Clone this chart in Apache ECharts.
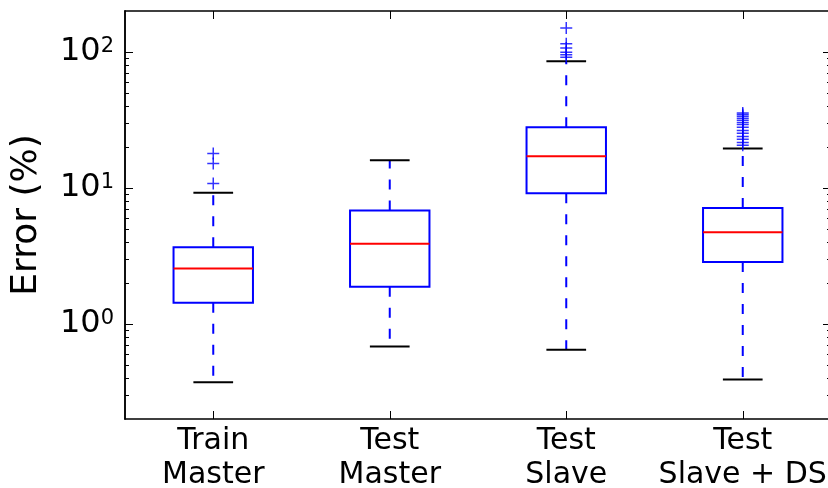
<!DOCTYPE html>
<html>
<head>
<meta charset="utf-8">
<script src="https://cdn.jsdelivr.net/npm/echarts@6/dist/echarts.min.js"></script>
<style>
  html, body { margin: 0; padding: 0; background: #fff; }
  #chart { width: 828px; height: 488px; }
</style>
</head>
<body>
<div id="chart"></div>
<script>
const categories = ['Train\nMaster', 'Test\nMaster', 'Test\nSlave', 'Test\nSlave + DS'];
const whiskerLow = [0.373, 0.682, 0.645, 0.39];
const q1 = [1.43, 1.88, 9.14, 2.85];
const median = [2.56, 3.88, 17.1, 4.73];
const q3 = [3.66, 6.83, 27.9, 7.13];
const whiskerHigh = [9.2, 16.0, 85.5, 19.5];
const outliers = [
  [17.9, 15.1, 10.8],
  [],
  [150, 115, 107, 99.5, 95.3, 91.4],
  [35.6, 34.7, 33.6, 32.5, 31.4, 30.3, 29.3, 27.9, 26.5, 25.2, 23.9, 22.8, 21.6, 20.6]
];
const majorTicks = [1, 10, 100];
const minorTicks = [0.3, 0.4, 0.5, 0.6, 0.7, 0.8, 0.9,
  2, 3, 4, 5, 6, 7, 8, 9,
  20, 30, 40, 50, 60, 70, 80, 90];

const FONT = 'DejaVu Sans';
const BLUE = '#0000ff';

const chart = echarts.init(document.getElementById('chart'));

const boxData = categories.map((c, i) => [i, whiskerLow[i], q1[i], median[i], q3[i], whiskerHigh[i]]);
const outlierData = [];
outliers.forEach((arr, i) => arr.forEach(v => outlierData.push([i, v])));

function renderBox(params, api) {
  const i = api.value(0);
  const band = api.size([1, 1], [i, 10])[0];
  const boxW = band * 0.45;
  const capW = boxW / 2;
  const x = api.coord([i, api.value(3)])[0];
  const yLow = api.coord([i, api.value(1)])[1];
  const yQ1 = api.coord([i, api.value(2)])[1];
  const yMed = api.coord([i, api.value(3)])[1];
  const yQ3 = api.coord([i, api.value(4)])[1];
  const yHigh = api.coord([i, api.value(5)])[1];
  const dash = { stroke: BLUE, lineWidth: 2, lineDash: [10, 11] };
  const cap = { stroke: '#000', lineWidth: 2 };
  return {
    type: 'group',
    children: [
      { type: 'line', shape: { x1: x, y1: yQ3, x2: x, y2: yHigh }, style: dash },
      { type: 'line', shape: { x1: x, y1: yQ1, x2: x, y2: yLow }, style: dash },
      { type: 'line', shape: { x1: x - capW / 2, y1: yHigh, x2: x + capW / 2, y2: yHigh }, style: cap },
      { type: 'line', shape: { x1: x - capW / 2, y1: yLow, x2: x + capW / 2, y2: yLow }, style: cap },
      { type: 'rect', shape: { x: x - boxW / 2, y: yQ3, width: boxW, height: yQ1 - yQ3 },
        style: { fill: 'none', stroke: BLUE, lineWidth: 2 } },
      { type: 'line', shape: { x1: x - boxW / 2, y1: yMed, x2: x + boxW / 2, y2: yMed },
        style: { stroke: '#ff0000', lineWidth: 2 } }
    ]
  };
}

const spine = { show: true, lineStyle: { color: '#000', width: 1.5 } };
const yBase = { type: 'log', logBase: 10, min: 0.2, max: 200, splitLine: { show: false }, axisLine: spine };
const tick = (len, values) => ({ show: true, inside: true, length: len, customValues: values, lineStyle: { color: '#000', width: 1 } });

const option = {
  animation: false,
  grid: { left: 125, right: -3, top: 11, bottom: 69, outerBoundsMode: 'none', containLabel: false },
  xAxis: [
    {
      type: 'category', data: categories, position: 'bottom',
      axisLine: spine,
      axisTick: { show: true, inside: true, length: 8, alignWithLabel: true, interval: 0, lineStyle: { color: '#000' } },
      axisLabel: { show: true, interval: 0, fontFamily: FONT, fontSize: 30, color: '#000', lineHeight: 34, margin: 5 },
      splitLine: { show: false }
    },
    {
      type: 'category', data: categories, position: 'top',
      axisLine: spine,
      axisTick: { show: true, inside: true, length: 8, alignWithLabel: true, interval: 0, lineStyle: { color: '#000' } },
      axisLabel: { show: false },
      splitLine: { show: false }
    }
  ],
  yAxis: [
    Object.assign({}, yBase, {
      position: 'left',
      name: 'Error (%)', nameLocation: 'middle', nameGap: 80,
      nameTextStyle: { fontFamily: FONT, fontSize: 36, color: '#000' },
      axisTick: tick(8, majorTicks),
      axisLabel: {
        customValues: majorTicks, margin: 11,
        formatter: v => '{b|10}{s|' + Math.round(Math.log10(v)) + '}',
        rich: {
          b: { fontFamily: FONT, fontSize: 32, color: '#000', lineHeight: 32, padding: [9, 0, 9, 0] },
          s: { fontFamily: FONT, fontSize: 21, color: '#000', lineHeight: 21, verticalAlign: 'top' }
        }
      }
    }),
    Object.assign({}, yBase, {
      position: 'left',
      axisTick: tick(4, minorTicks),
      axisLabel: { show: false }
    }),
    Object.assign({}, yBase, {
      position: 'right',
      axisTick: tick(8, majorTicks),
      axisLabel: { show: false }
    }),
    Object.assign({}, yBase, {
      position: 'right',
      axisTick: tick(4, minorTicks),
      axisLabel: { show: false }
    })
  ],
  series: [
    {
      type: 'custom',
      renderItem: renderBox,
      data: boxData,
      encode: { x: 0, y: [1, 2, 3, 4, 5] },
      z: 2
    },
    {
      type: 'scatter',
      data: outlierData,
      symbol: 'path://M5,0 L5,10 M0,5 L10,5',
      symbolSize: 12,
      itemStyle: { color: 'none', borderColor: BLUE, borderWidth: 1.5 },
      z: 3
    }
  ]
};

chart.setOption(option);
</script>
</body>
</html>
